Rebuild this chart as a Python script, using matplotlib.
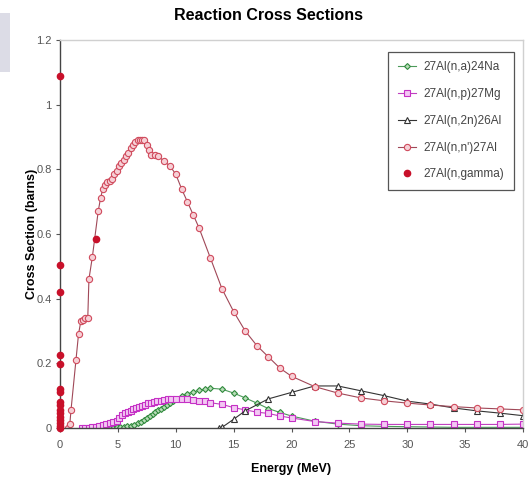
import matplotlib.pyplot as plt
from matplotlib.patches import Rectangle

# Energies (MeV) and cross sections (barns)
na_E = [4.3, 4.6, 4.9, 5.2, 5.5, 5.8, 6.1, 6.4, 6.7, 7.0,
        7.25, 7.5, 7.75, 8.0, 8.25, 8.5, 8.75, 9.0, 9.25, 9.5,
        9.75, 10.0, 10.5, 11.0, 11.5, 12.0, 12.5, 13.0, 14.0, 15.0,
        16.0, 17.0, 18.0, 19.0, 20.0, 22.0, 24.0, 26.0, 28.0, 30.0,
        32.0, 34.0, 36.0, 38.0, 40.0]
na_Y = [0.0, 0.001, 0.002, 0.003, 0.004, 0.005, 0.007, 0.01, 0.014, 0.02,
        0.026, 0.032, 0.038, 0.044, 0.05, 0.055, 0.06, 0.065, 0.07, 0.077,
        0.084, 0.09, 0.099, 0.106, 0.111, 0.116, 0.12, 0.123, 0.12, 0.108,
        0.093, 0.077, 0.06, 0.048, 0.037, 0.021, 0.012, 0.007, 0.005, 0.004,
        0.003, 0.002, 0.002, 0.002, 0.002]

np_E = [1.9, 2.2, 2.5, 2.8, 3.1, 3.4, 3.7, 4.0, 4.3, 4.6,
        4.9, 5.1, 5.35, 5.6, 5.85, 6.1, 6.35, 6.6, 6.85, 7.1,
        7.35, 7.6, 7.85, 8.1, 8.4, 8.7, 9.0, 9.3, 9.6, 10.0,
        10.5, 11.0, 11.5, 12.0, 12.5, 13.0, 14.0, 15.0, 16.0, 17.0,
        18.0, 19.0, 20.0, 22.0, 24.0, 26.0, 28.0, 30.0, 32.0, 34.0,
        36.0, 38.0, 40.0]
np_Y = [0.0, 0.0, 0.001, 0.002, 0.004, 0.006, 0.009, 0.012, 0.015, 0.018,
        0.022, 0.03, 0.04, 0.046, 0.05, 0.054, 0.058, 0.062, 0.065, 0.068,
        0.072, 0.076, 0.078, 0.08, 0.082, 0.084, 0.087, 0.089, 0.09, 0.091,
        0.091, 0.09, 0.087, 0.085, 0.082, 0.078, 0.073, 0.063, 0.056, 0.049,
        0.045, 0.037, 0.031, 0.02, 0.015, 0.012, 0.011, 0.011, 0.011, 0.011,
        0.011, 0.011, 0.012]

n2n_E = [13.7, 14.0, 15.0, 16.0, 18.0, 20.0, 22.0, 24.0, 26.0, 28.0,
         30.0, 32.0, 34.0, 36.0, 38.0, 40.0]
n2n_Y = [0.0, 0.002, 0.027, 0.053, 0.09, 0.11, 0.13, 0.13, 0.115, 0.10,
         0.083, 0.074, 0.062, 0.053, 0.046, 0.038]

nn_E = [0.7, 0.85, 0.95, 1.38, 1.6, 1.8, 2.0, 2.2, 2.4, 2.5,
        2.8, 3.3, 3.5, 3.7, 3.9, 4.1, 4.3, 4.5, 4.7, 4.9,
        5.1, 5.3, 5.5, 5.7, 5.9, 6.1, 6.3, 6.5, 6.7, 6.9,
        7.1, 7.3, 7.5, 7.7, 7.9, 8.2, 8.5, 9.0, 9.5, 10.0,
        10.5, 11.0, 11.5, 12.0, 13.0, 14.0, 15.0, 16.0, 17.0, 18.0,
        19.0, 20.0, 22.0, 24.0, 26.0, 28.0, 30.0, 32.0, 34.0, 36.0,
        38.0, 40.0]
nn_Y = [0.0, 0.012, 0.055, 0.21, 0.29, 0.33, 0.335, 0.34, 0.34, 0.46,
        0.53, 0.67, 0.71, 0.74, 0.75, 0.76, 0.765, 0.77, 0.785, 0.795,
        0.81, 0.82, 0.83, 0.84, 0.85, 0.865, 0.875, 0.885, 0.89, 0.89,
        0.89, 0.89, 0.875, 0.86, 0.845, 0.845, 0.84, 0.825, 0.81, 0.785,
        0.74, 0.70, 0.66, 0.62, 0.525, 0.43, 0.36, 0.30, 0.255, 0.22,
        0.185, 0.16, 0.128, 0.108, 0.093, 0.084, 0.077, 0.071, 0.066, 0.062,
        0.059, 0.056]

gam_E = [0.03] * 16 + [3.15]
gam_Y = [1.09, 0.505, 0.42, 0.225, 0.198, 0.12, 0.11, 0.08, 0.072, 0.055,
         0.045, 0.035, 0.025, 0.015, 0.005, 0.0, 0.585]

plt.rcParams['font.family'] = ['Liberation Sans', 'DejaVu Sans']

fig = plt.figure(figsize=(5.29, 4.83), dpi=100)
# petit rectangle gris en haut a gauche (artefact de capture)
fig.patches.append(Rectangle((0, 0.851), 0.019, 0.122, transform=fig.transFigure,
                             facecolor='#dcdce6', edgecolor='none'))

ax = fig.add_axes([0.1134, 0.1139, 0.8753, 0.8033])

ax.plot(na_E, na_Y, color='#4c9a5a', lw=0.8, marker='D', ms=3,
        mfc='#b8dcb8', mec='#2f8a3c', mew=0.8, label='27Al(n,a)24Na')
ax.plot(np_E, np_Y, color='#c040c0', lw=0.8, marker='s', ms=4,
        mfc='#f3c8f3', mec='#c530c5', mew=0.8, label='27Al(n,p)27Mg')
ax.plot(n2n_E, n2n_Y, color='#333333', lw=0.8, marker='^', ms=4.5,
        mfc='white', mec='#333333', mew=0.8, label='27Al(n,2n)26Al')
ax.plot(nn_E, nn_Y, color='#a04858', lw=0.8, marker='o', ms=4.5,
        mfc='#f6d0d6', mec='#d04a5c', mew=0.8, label="27Al(n,n')27Al")
ax.plot(gam_E, gam_Y, ls='none', marker='o', ms=4.5, color='#c8102a',
        label='27Al(n,gamma)', clip_on=False, zorder=5)

ax.set_xlim(0, 40)
ax.set_ylim(0, 1.2)
ax.set_xticks(range(0, 41, 5))
ax.set_yticks([0, 0.2, 0.4, 0.6, 0.8, 1.0, 1.2])
ax.set_yticklabels(['0', '0.2', '0.4', '0.6', '0.8', '1', '1.2'])
ax.tick_params(labelsize=8, colors='#555555', length=3, width=0.8, pad=6)
ax.tick_params(axis='y', pad=3)

for side in ['left', 'bottom']:
    ax.spines[side].set_color('#444444')
    ax.spines[side].set_linewidth(1.0)
for side in ['top', 'right']:
    ax.spines[side].set_color('#d0d0d0')
    ax.spines[side].set_linewidth(1.0)

fig.text(0.507, 0.968, 'Reaction Cross Sections', fontsize=11.5,
         fontweight='bold', ha='center', va='center')
ax.set_xlabel('Energy (MeV)', fontsize=9, fontweight='bold', labelpad=9)
ax.set_ylabel('Cross Section (barns)', fontsize=9, fontweight='bold', labelpad=-1)

leg = ax.legend(loc='upper right', bbox_to_anchor=(0.98, 0.969), fontsize=8.5,
                fancybox=False, framealpha=1, edgecolor='#555555',
                handlelength=1.6, labelspacing=1.25, borderpad=0.8,
                handletextpad=0.6, borderaxespad=0)
leg.get_frame().set_linewidth(0.9)
for t in leg.get_texts():
    t.set_color('#444444')

fig.savefig('out.png', dpi=100)
